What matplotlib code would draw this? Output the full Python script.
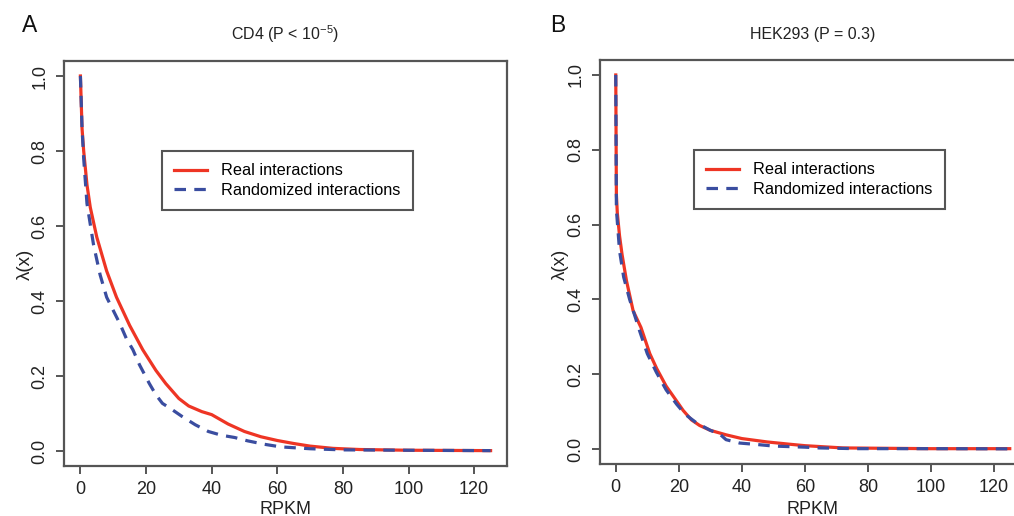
"""Two-panel lambda(x) vs RPKM plot: real vs randomized interactions."""
import matplotlib
matplotlib.use("Agg")
import matplotlib.pyplot as plt

# panel A (CD4)
cd4_real_x = [0, 0.5, 1, 2, 3, 5, 8, 11, 15, 19, 23, 26, 30, 33, 37, 40, 45, 50, 55, 60, 65, 70, 77, 85, 100, 125]
cd4_real_y = [1.0, 0.86, 0.80, 0.71, 0.65, 0.57, 0.48, 0.41, 0.335, 0.27, 0.215, 0.18, 0.14, 0.12, 0.105,
              0.097, 0.072, 0.052, 0.038, 0.028, 0.02, 0.013, 0.007, 0.004, 0.002, 0.001]
cd4_rand_x = [0, 0.5, 1, 2, 4, 6, 8, 10, 12, 14, 16, 18, 21, 23, 25, 28, 31, 35, 39, 43, 47, 51, 56, 61, 70, 80, 100, 125]
cd4_rand_y = [1.0, 0.86, 0.78, 0.66, 0.55, 0.47, 0.41, 0.375, 0.34, 0.30, 0.27, 0.23, 0.18, 0.15, 0.127, 0.11,
              0.092, 0.07, 0.052, 0.042, 0.036, 0.027, 0.018, 0.011, 0.006, 0.003, 0.002, 0.001]

# panel B (HEK293)
hek_real_x = [0, 0.2, 0.5, 1.2, 2, 3.4, 5.5, 8, 10.8, 13, 16, 19, 21.4, 24, 26.6, 30, 35, 40, 48, 55, 60, 72, 85, 100, 125]
hek_real_y = [1.0, 0.68, 0.63, 0.57, 0.52, 0.45, 0.37, 0.325, 0.255, 0.215, 0.168, 0.132, 0.103, 0.078, 0.063, 0.05,
              0.038, 0.028, 0.019, 0.013, 0.009, 0.003, 0.002, 0.001, 0.001]
hek_rand_x = [0, 0.2, 1.2, 2.5, 4.4, 7.6, 10, 12.9, 16, 19.3, 22, 25.6, 30, 33, 35, 39.3, 45, 50, 60, 64.5, 76, 100, 125]
hek_rand_y = [1.0, 0.64, 0.53, 0.46, 0.40, 0.315, 0.255, 0.205, 0.158, 0.12, 0.093, 0.07, 0.05, 0.04, 0.025, 0.016,
              0.012, 0.008, 0.005, 0.003, 0.001, 0.001, 0.0005]

panels = [
    ("A", r"CD4 (P < 10$^{-5}$)", cd4_real_x, cd4_real_y, cd4_rand_x, cd4_rand_y),
    ("B", "HEK293 (P = 0.3)", hek_real_x, hek_real_y, hek_rand_x, hek_rand_y),
]
labels = ["Real interactions", "Randomized interactions"]

RED, BLUE, FRAME = "#ee3524", "#3a4da0", "#555555"
W, H = 1014, 516

plt.rcParams.update({
    "font.family": ["Liberation Sans", "DejaVu Sans"],
    "mathtext.fontset": "custom", "mathtext.rm": "Liberation Sans", "mathtext.it": "Liberation Sans:italic",
    "axes.edgecolor": FRAME, "axes.linewidth": 1.6,
    "xtick.color": FRAME, "ytick.color": FRAME, "xtick.labelcolor": "#222222", "ytick.labelcolor": "#222222",
})

fig = plt.figure(figsize=(W / 100, H / 100), dpi=100)
# axes boxes in pixels: left, right, top, bottom
boxes = [(64, 507, 61, 466), (600, 1025.5, 60, 464)]
legend_corner = [(162, 151), (694, 150)]
letter_pos = [(29.5, 25.5), (558, 25)]
ylabel_x = [25.5, 560]

for i, (letter, title, rx, ry, bx, by) in enumerate(panels):
    l, r, t, b = boxes[i]
    ax = fig.add_axes([l / W, 1 - b / H, (r - l) / W, (b - t) / H])
    ax.plot(rx, ry, color=RED, lw=2.3, label=labels[0])
    ax.plot(bx, by, color=BLUE, lw=2.3, dashes=(3.6, 2.6), label=labels[1])
    ax.set_xlim(-5, 130)
    ax.set_ylim(-0.04, 1.04)
    ax.set_xticks(range(0, 121, 20))
    ax.set_yticks([0, 0.2, 0.4, 0.6, 0.8, 1.0])
    ax.set_yticklabels(["0.0", "0.2", "0.4", "0.6", "0.8", "1.0"], rotation=90, va="center")
    ax.tick_params(direction="out", length=6, width=1.4, labelsize=13, pad=5)
    lx, ly = legend_corner[i]
    leg = ax.legend(loc="upper left", bbox_to_anchor=(lx / W, 1 - ly / H), bbox_transform=fig.transFigure,
                    borderaxespad=0, fontsize=11.7, handlelength=2.0, handletextpad=0.9, labelspacing=0.3,
                    borderpad=0.75, fancybox=False, framealpha=1)
    leg.get_frame().set_edgecolor(FRAME); leg.get_frame().set_linewidth(1.5)
    cx = (l + r) / 2
    fig.text(cx / W, 1 - 34 / H, title, ha="center", va="center", fontsize=11.5, color="#222222")
    fig.text(letter_pos[i][0] / W, 1 - letter_pos[i][1] / H, letter, ha="center", va="center", fontsize=16.5, color="#111111")
    fig.text(ylabel_x[i] / W, 1 - 264 / H, r"λ(x)", rotation=90, ha="center", va="center", fontsize=13.5, color="#222222")
    fig.text(cx / W, 1 - 509 / H, "RPKM", ha="center", va="center", fontsize=13, color="#222222")

fig.savefig("out.png", dpi=100)
